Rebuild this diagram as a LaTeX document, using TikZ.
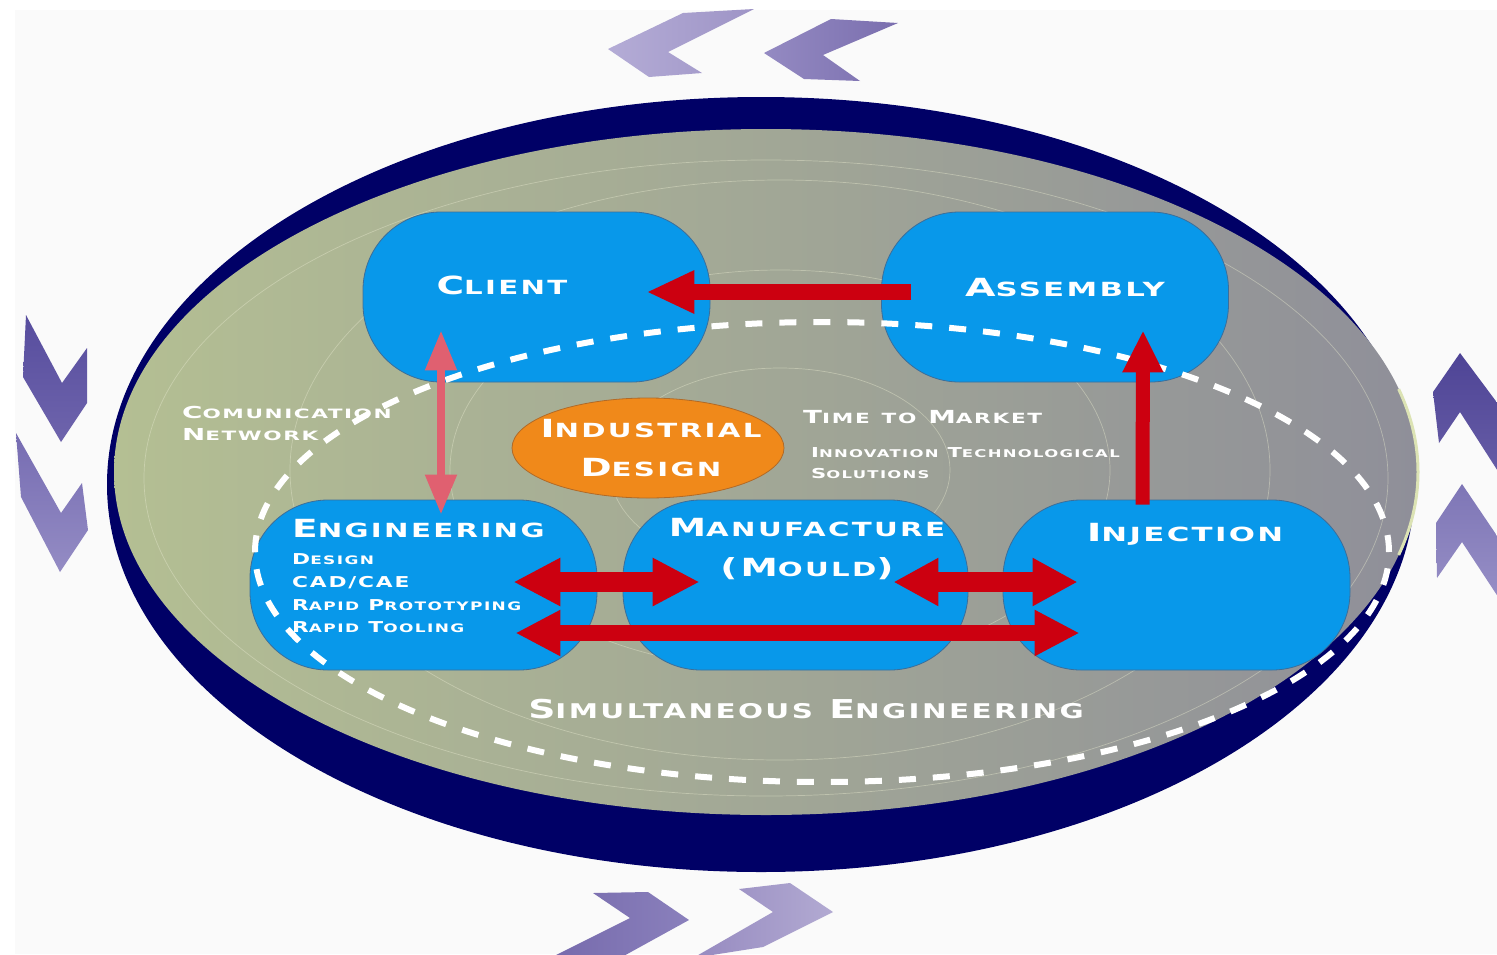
\documentclass[tikz,border=0pt]{standalone}
\usepackage{fontspec}
\usetikzlibrary{arrows.meta,calc,shapes.geometric}
\newfontfamily\ewfA[FakeStretch=1.5,LetterSpace=12,UprightFont=* Bold]{DejaVu Sans}
\newfontfamily\ewfB[FakeStretch=1.58,LetterSpace=12,UprightFont=* Bold]{DejaVu Sans}
\newfontfamily\ewfC[FakeStretch=1.68,LetterSpace=12,UprightFont=* Bold]{DejaVu Sans}
\newfontfamily\ewfD[FakeStretch=1.54,LetterSpace=12,UprightFont=* Bold]{DejaVu Sans}
\newfontfamily\ewfE[FakeStretch=1.45,LetterSpace=12,UprightFont=* Bold]{DejaVu Sans}
\makeatletter
\newcommand\smc[1]{{\dimen@=\f@size pt\dimen@=0.78\dimen@\fontsize{\strip@pt\dimen@}{\strip@pt\dimen@}\selectfont #1}}
\makeatother
\newcommand\W[2]{#1\smc{#2}}
\definecolor{navy}{HTML}{000066}
\definecolor{boxblue}{HTML}{0898EA}
\definecolor{boxedge}{HTML}{3D6E99}
\definecolor{arrred}{HTML}{CC0010}
\definecolor{arrpink}{HTML}{E06070}
\definecolor{orng}{HTML}{F0891A}
\definecolor{orngedge}{HTML}{B06A28}
\definecolor{sage}{HTML}{B4BF93}
\definecolor{midgray}{HTML}{A3A894}
\definecolor{rgray}{HTML}{8F8F99}
\definecolor{bgpage}{HTML}{FAFAFA}
\definecolor{faint}{HTML}{E4E6CC}
\definecolor{rim}{HTML}{DCE3B4}
\tikzset{
  box/.style={draw=boxedge, line width=0.8pt, fill=boxblue, rounded corners=78pt,
    minimum width=347pt, minimum height=170pt, inner sep=0pt},
  lbl/.style={text=white, inner sep=0pt},
  bigf/.style={font=\ewfA\fontsize{25}{30}\selectfont},
  widef/.style={font=\ewfB\fontsize{25}{30}\selectfont},
  simf/.style={font=\ewfE\fontsize{26}{30}\selectfont},
  subf/.style={font=\ewfE\fontsize{15}{18}\selectfont},
  commf/.style={font=\ewfC\fontsize{16.5}{20}\selectfont},
  timef/.style={font=\ewfD\fontsize{18}{22}\selectfont},
  innof/.style={font=\ewfD\fontsize{13.7}{16}\selectfont},
  redarrow/.style={draw=arrred},
  pinkarrow/.style={draw=arrpink},
  dashring/.style={draw=white, line width=6pt, dash pattern=on 17pt off 17pt},
  faintline/.style={draw=faint, line width=0.7pt, opacity=0.45}
}
\begin{document}
\begin{tikzpicture}[x=1pt,y=-1pt]
\useasboundingbox (0,0) rectangle (1497,954);
\fill[white] (0,0) rectangle (1497,954);
\fill[bgpage] (15,10) rectangle (1497,954);

% chevrons top (pointing left)
\shade[left color={rgb,255:red,180;green,172;blue,214}, right color={rgb,255:red,158;green,148;blue,198}]
  (683,13) -- (754,9) -- (668,52) -- (702,73) -- (649,77) -- (608,49) -- cycle;
\shade[left color={rgb,255:red,148;green,138;blue,194}, right color={rgb,255:red,122;green,110;blue,174}]
  (831,19) -- (898,23) -- (823,55) -- (860,81) -- (804,79) -- (764,53) -- cycle;
% chevrons left (pointing down)
\shade[top color={rgb,255:red,87;green,77;blue,158}, bottom color={rgb,255:red,110;green,100;blue,172}]
  (26,315) -- (62,383) -- (87,348) -- (87,403) -- (61,442) -- (23,377) -- cycle;
\shade[top color={rgb,255:red,118;green,108;blue,178}, bottom color={rgb,255:red,148;green,140;blue,196}]
  (16,433) -- (61,513) -- (82,483) -- (88,530) -- (60,572) -- (21,497) -- cycle;
% chevrons right (pointing up)
\shade[top color={rgb,255:red,78;green,68;blue,150}, bottom color={rgb,255:red,106;green,96;blue,168}]
  (1460,353) -- (1433,392) -- (1439,443) -- (1460,412) -- (1510,490) -- (1510,420) -- cycle;
\shade[top color={rgb,255:red,126;green,118;blue,182}, bottom color={rgb,255:red,154;green,146;blue,200}]
  (1462,484) -- (1436,523) -- (1437,578) -- (1462,542) -- (1510,615) -- (1510,555) -- cycle;
% chevrons bottom (pointing right)
\shade[left color={rgb,255:red,118;green,106;blue,172}, right color={rgb,255:red,138;green,128;blue,188}]
  (593,893) -- (648,892) -- (689,920) -- (620,958) -- (550,958) -- (630,918) -- cycle;
\shade[left color={rgb,255:red,150;green,138;blue,192}, right color={rgb,255:red,178;green,170;blue,210}]
  (739,889) -- (790,883) -- (833,912) -- (763,947) -- (693,958) -- (773,912) -- cycle;

% main ellipse
\fill[navy] (761,484.5) ellipse [x radius=654pt, y radius=387.5pt];
\shade[left color=sage, middle color=midgray, right color=rgray]
  (766,472) ellipse [x radius=652pt, y radius=343pt];
\draw[rim, line width=3pt] ([shift={(766,472)}]-14:652pt and 343pt)
  arc[start angle=-14, end angle=14, x radius=652pt, y radius=343pt];
% faint concentric lines
\draw[faintline] (766,478) ellipse [x radius=622pt, y radius=318pt];
\draw[faintline] (780,470) ellipse [x radius=170pt, y radius=102pt];
\draw[faintline] (780,470) ellipse [x radius=330pt, y radius=200pt];
\draw[faintline] (780,470) ellipse [x radius=490pt, y radius=290pt];

% boxes
\node[box] (client) at (536.5,297) {};
\node[box] (assembly) at (1055,297) {};
\node[box] (engineering) at (423.5,585) {};
\node[box, minimum width=345pt] (manufacture) at (795.5,585) {};
\node[box] (injection) at (1176.5,585) {};
\node[draw=orngedge, line width=0.8pt, fill=orng, ellipse, minimum width=272pt, minimum height=100pt, inner sep=0pt] (industrial) at (648,448) {};

% dashed ring
\draw[dashring] (822,552) ellipse [x radius=567pt, y radius=230pt];

% texts
\node[lbl,bigf,anchor=base] (tclient) at (502,294) {\W{C}{LIENT}};
\node[lbl,widef,anchor=base] (tassembly) at (1065,296) {\W{A}{SSEMBLY}};
\node[lbl,bigf,anchor=base west] (teng) at (292,537) {\W{E}{NGINEERING}};
\node[lbl,subf,anchor=base west] (td1) at (292,564) {\W{D}{ESIGN}};
\node[lbl,subf,anchor=base west] (td2) at (292,587) {CAD/CAE};
\node[lbl,subf,anchor=base west] (td3) at (292,610) {\W{R}{APID} \W{P}{ROTOTYPING}};
\node[lbl,subf,anchor=base west] (td4) at (292,632) {\W{R}{APID} \W{T}{OOLING}};
\node[lbl,bigf,anchor=base] (tman1) at (807,536) {\W{M}{ANUFACTURE}};
\node[lbl,bigf,anchor=base] (tman2) at (807,576) {(\W{M}{OULD})};
\node[lbl,widef,anchor=base] (tinj) at (1185,541) {\W{I}{NJECTION}};
\node[lbl,bigf,anchor=base] (tind1) at (651,437) {\W{I}{NDUSTRIAL}};
\node[lbl,bigf,anchor=base] (tind2) at (651,476) {\W{D}{ESIGN}};
\node[lbl,commf,anchor=base west] (tcom1) at (182,418) {\W{C}{OMUNICATION}};
\node[lbl,commf,anchor=base west] (tcom2) at (182,440) {\W{N}{ETWORK}};
\node[lbl,timef,anchor=base west] (ttime) at (803,423) {\W{T}{IME} \smc{TO} \W{M}{ARKET}};
\node[lbl,innof,anchor=base west] (tinno1) at (811,457) {\W{I}{NNOVATION} \W{T}{ECHNOLOGICAL}};
\node[lbl,innof,anchor=base west] (tinno2) at (811,478) {\W{S}{OLUTIONS}};
\node[lbl,simf,anchor=base] (tsim) at (806,718) {\W{S}{IMULTANEOUS} \W{E}{NGINEERING}};

% arrows
\draw[redarrow, line width=16pt, -{Triangle[length=48pt,width=40pt]}]
  ($(assembly.west)+(30,-5)$) -- ($(client.east)+(-64,-5)$);
\draw[redarrow, line width=14pt, -{Triangle[length=42pt,width=38pt]}]
  ($(injection.north)+(-34,5)$) -- ($(assembly.south)+(88,-52)$);
\draw[pinkarrow, line width=8pt, {Triangle[length=40pt,width=30pt]}-{Triangle[length=40pt,width=30pt]}]
  ($(client.south)+(-95.5,-52)$) -- ($(engineering.north)+(17.5,15)$);
\draw[redarrow, line width=20pt, {Triangle[length=47pt,width=45pt]}-{Triangle[length=47pt,width=45pt]}]
  ($(engineering.east)+(-84,-3)$) -- ($(manufacture.west)+(77,-3)$);
\draw[redarrow, line width=20pt, {Triangle[length=45pt,width=45pt]}-{Triangle[length=45pt,width=45pt]}]
  ($(manufacture.east)+(-75,-3)$) -- ($(injection.west)+(75,-3)$);
\draw[redarrow, line width=16pt, {Triangle[length=45pt,width=43pt]}-{Triangle[length=45pt,width=43pt]}]
  ($(engineering.east)+(-82,48)$) -- ($(injection.west)+(77,48)$);
\end{tikzpicture}
\end{document}
